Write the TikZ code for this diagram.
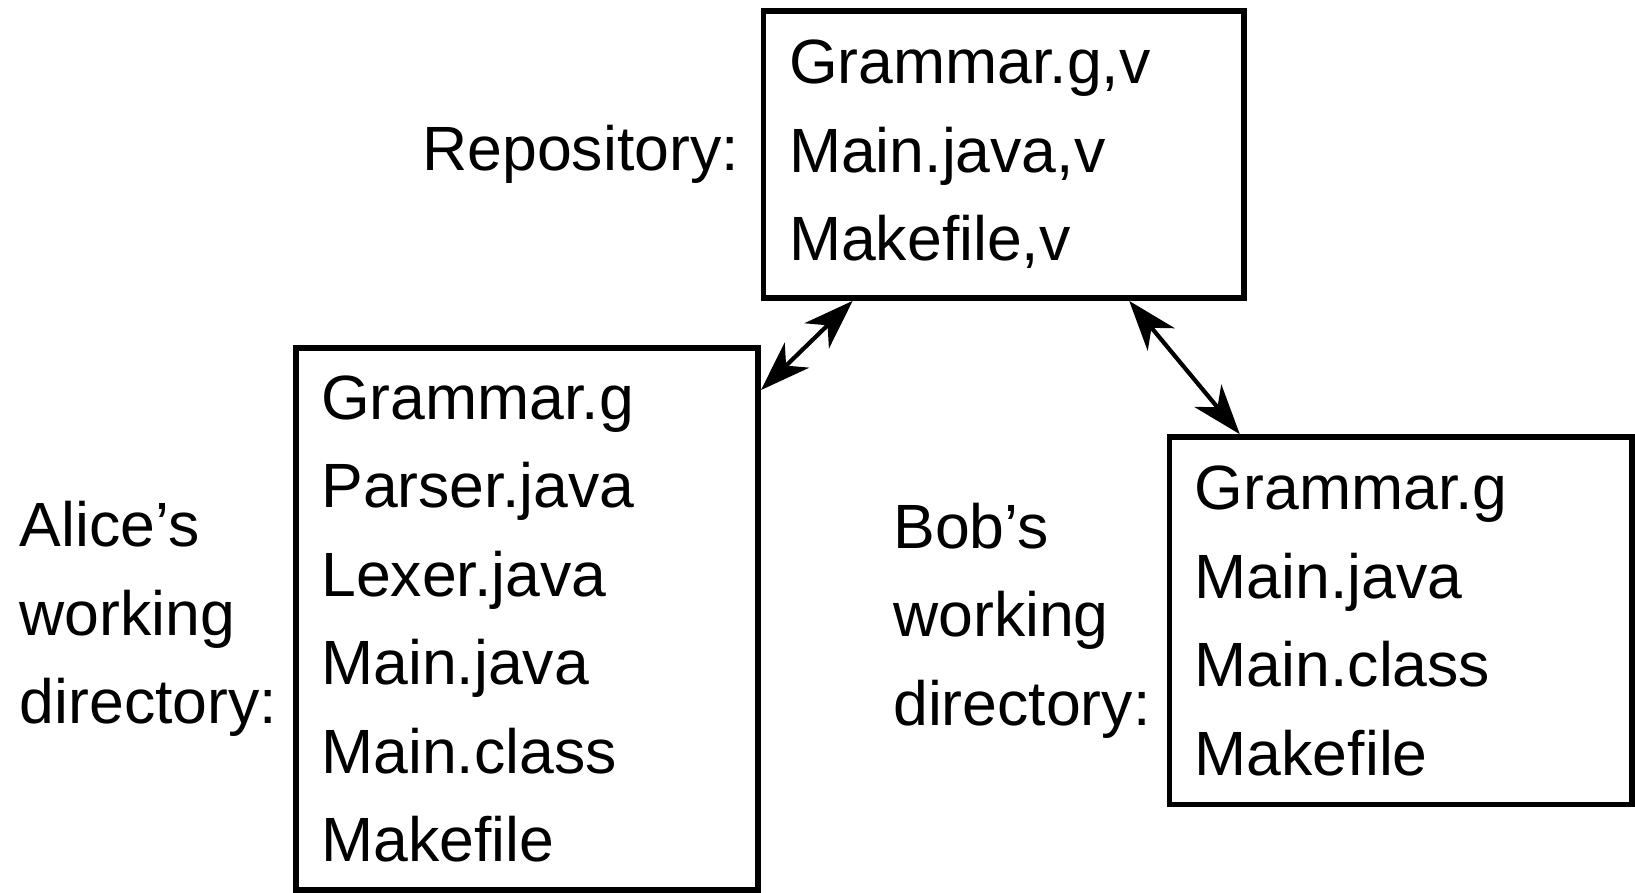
\documentclass[tikz,border=0pt]{standalone}
\usepackage{fontspec}
\setmainfont{Liberation Sans}
\usepackage{xcolor}
\usepackage{tikz}
\usetikzlibrary{calc,positioning,arrows.meta}
\definecolor{bg}{HTML}{FFFFFF}
\definecolor{ink}{HTML}{000000}
\tikzset{
  big/.style={font=\fontsize{35.6}{50.4}\selectfont, text=ink},
  files/.style={big, draw=ink, line width=3.2pt, align=left, text width=8.23cm, inner xsep=0.51cm, inner ysep=0.1cm},
  lab/.style={big, align=left, inner sep=0pt, outer sep=0pt},
  link/.style={draw=ink, line width=2.4pt, {Stealth[length=1cm, width=0.7cm, inset=0.3cm]}-{Stealth[length=1cm, width=0.7cm, inset=0.3cm]}},
}

\begin{document}
\begin{tikzpicture}[x=0.02cm, y=-0.02cm]
  \useasboundingbox[fill=bg] (0,0) rectangle (1635,892);
  \node[files, text width=8.59cm, minimum height=5.74cm] (repo) at (1003.8,154.6)
    {Grammar.g,v\\Main.java,v\\Makefile,v};
  \node[files, minimum height=10.84cm] (alice) at (527,619)
    {Grammar.g\\Parser.java\\Lexer.java\\Main.java\\Main.class\\Makefile};
  \node[files, minimum height=7.35cm] (bob) at (1400.5,620.75)
    {Grammar.g\\Main.java\\Main.class\\Makefile};
  \node[lab, left=0.44cm of repo] (repolab) {Repository:};
  \node[lab, left=0.32cm of alice] (alicelab) {Alice’s\\working\\directory:};
  \node[lab, left=0.32cm of bob] (boblab) {Bob’s\\working\\directory:};
  \draw[link] ($(repo.south west)!0.189!(repo.south east)$) -- ($(alice.north east)+(0,44.8)$);
  \draw[link] ($(repo.south west)!0.758!(repo.south east)$) -- ($(bob.north west)+(73.3,0)$);
\end{tikzpicture}
\end{document}
